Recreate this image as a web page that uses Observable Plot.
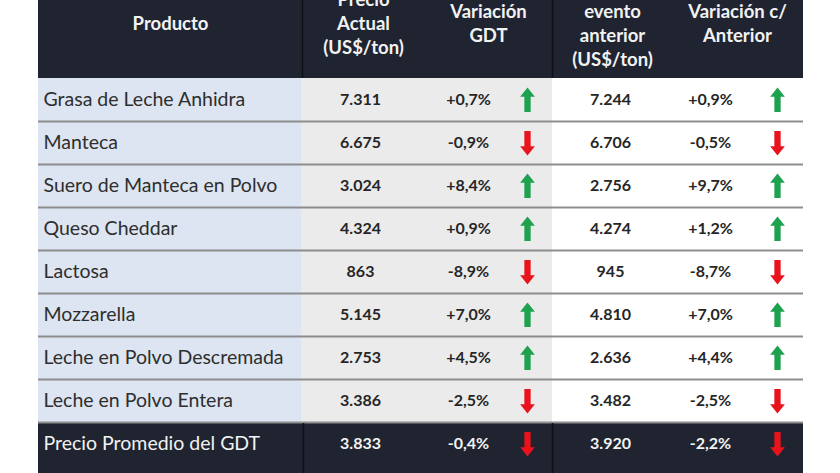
<!DOCTYPE html>
<html>
<head>
<meta charset="utf-8">
<script src="https://cdn.jsdelivr.net/npm/d3@7"></script>
<script src="https://cdn.jsdelivr.net/npm/@observablehq/plot@0.6"></script>
<style>
  html, body { margin: 0; padding: 0; background: #ffffff; }
  #chart { width: 840px; height: 473px; overflow: hidden; }
</style>
</head>
<body>
<div id="chart"></div>
<script>
// ---- data ----
const products = [
  "Grasa de Leche Anhidra",
  "Manteca",
  "Suero de Manteca en Polvo",
  "Queso Cheddar",
  "Lactosa",
  "Mozzarella",
  "Leche en Polvo Descremada",
  "Leche en Polvo Entera",
  "Precio Promedio del GDT"
];
const precioActual   = [7311, 6675, 3024, 4324, 863, 5145, 2753, 3386, 3833];
const variacionGDT   = [0.7, -0.9, 8.4, 0.9, -8.9, 7.0, 4.5, -2.5, -0.4];
const eventoAnterior = [7244, 6706, 2756, 4274, 945, 4810, 2636, 3482, 3920];
const variacionAnt   = [0.9, -0.5, 9.7, 1.2, -8.7, 7.0, 4.4, -2.5, -2.2];
const headers = [
  "Producto",
  "Precio\nActual\n(US$/ton)",
  "Variación\nGDT",
  "evento\nanterior\n(US$/ton)",
  "Variación c/\nAnterior"
];

// ---- layout ----
const W = 840, H = 473;
const HEAD_H = 78, ROW_H = 43;
const colEdges = [38, 301, 552, 803];
const headerX = [170, 363, 488, 612, 737];
const headerY = [22, 22, 22, 34, 22];
const X = {name: 43, price: 360, pct: 468, arrow1: 527, prev: 610, pct2: 710, arrow2: 777};
const DARK = "#1f2430";

const loc = d3.formatLocale({decimal: ",", thousands: ".", grouping: [3], currency: ["", ""]});
const fmtNum = loc.format(",d");
const fmtPct = v => (v > 0 ? "+" : v < 0 ? "-" : "") + Math.abs(v).toFixed(1).replace(".", ",") + "%";

const rows = products.map((p, i) => ({
  name: p,
  i,
  top: HEAD_H + i * ROW_H,
  mid: HEAD_H + i * ROW_H + ROW_H / 2,
  bottom: HEAD_H + (i + 1) * ROW_H,
  dark: i === products.length - 1,
  price: fmtNum(precioActual[i]),
  v1: variacionGDT[i],
  prev: fmtNum(eventoAnterior[i]),
  v2: variacionAnt[i]
}));
const light = rows.filter(r => !r.dark);
const dark = rows.filter(r => r.dark);

// background cells
const cells = [];
light.forEach(r => {
  cells.push({x1: colEdges[0], x2: colEdges[1], y1: r.top, y2: r.bottom, fill: "#dce5f1"});
  cells.push({x1: colEdges[1], x2: colEdges[2], y1: r.top, y2: r.bottom, fill: "#ebebeb"});
  cells.push({x1: colEdges[2], x2: colEdges[3], y1: r.top, y2: r.bottom, fill: "#ffffff"});
});
cells.push({x1: colEdges[0], x2: colEdges[3], y1: 0, y2: HEAD_H, fill: DARK});
dark.forEach(r => cells.push({x1: colEdges[0], x2: colEdges[3], y1: r.top, y2: H, fill: DARK}));

// arrow symbols
function arrowSymbol(up) {
  return {
    draw(ctx, size) {
      const s = Math.sqrt(size / Math.PI) / 10;
      const d = up ? 1 : -1;
      ctx.moveTo(0, -12 * s * d);
      ctx.lineTo(7 * s, -3 * s * d);
      ctx.lineTo(3 * s, -3 * s * d);
      ctx.lineTo(3 * s, 11.5 * s * d);
      ctx.lineTo(-3 * s, 11.5 * s * d);
      ctx.lineTo(-3 * s, -3 * s * d);
      ctx.lineTo(-7 * s, -3 * s * d);
      ctx.closePath();
    }
  };
}
const arrows = [];
rows.forEach(r => {
  arrows.push({x: X.arrow1, y: r.mid, up: r.v1 > 0});
  arrows.push({x: X.arrow2, y: r.mid, up: r.v2 > 0});
});

const font = "Lato, 'Open Sans', sans-serif";
const headerData = headers.map((t, k) => ({t, x: headerX[k], y: headerY[k]}));
const VAL_FS = 16;

const plot = Plot.plot({
  width: W,
  height: H,
  margin: 0,
  style: {fontFamily: font, background: "#ffffff"},
  x: {type: "linear", domain: [0, W], range: [0, W], axis: null},
  y: {type: "linear", domain: [0, H], range: [0, H], axis: null},
  marks: [
    Plot.rect(cells, {x1: "x1", x2: "x2", y1: "y1", y2: "y2", fill: d => d.fill}),
    Plot.ruleY(light.slice(1).map(r => r.top).concat([dark[0].top]), {x1: colEdges[0], x2: colEdges[3], stroke: "#8d8d8d", strokeWidth: 2}),
    Plot.ruleX([colEdges[1] + 1, colEdges[2]], {y1: 0, y2: HEAD_H, stroke: "#0e1015", strokeWidth: 1.5}),
    Plot.ruleX([colEdges[1] + 2, colEdges[2]], {y1: dark[0].top + 1, y2: H, stroke: "#0e1015", strokeWidth: 1.5}),
    // header text
    Plot.text(headerData, {x: "x", y: "y", text: "t", fill: "#f2f2f2", fontWeight: "bold", fontSize: 18.5, lineHeight: 24 / 18.5, lineAnchor: "middle"}),
    // product names
    Plot.text(light, {x: X.name, y: "mid", text: "name", textAnchor: "start", fill: "#2e2e2e", fontSize: 19.5}),
    Plot.text(dark, {x: X.name, y: "mid", text: "name", textAnchor: "start", fill: "#f2f2f2", fontSize: 19.5}),
    // values
    ...[["price", X.price], ["prev", X.prev]].flatMap(([k, x]) => [
      Plot.text(light, {x, y: "mid", text: k, fill: "#262626", fontWeight: "bold", fontSize: VAL_FS}),
      Plot.text(dark, {x, y: "mid", text: k, fill: "#f2f2f2", fontWeight: "bold", fontSize: VAL_FS})
    ]),
    ...[["v1", X.pct], ["v2", X.pct2]].flatMap(([k, x]) => [
      Plot.text(light, {x, y: "mid", text: d => fmtPct(d[k]), fill: "#262626", fontWeight: "bold", fontSize: VAL_FS}),
      Plot.text(dark, {x, y: "mid", text: d => fmtPct(d[k]), fill: "#f2f2f2", fontWeight: "bold", fontSize: VAL_FS})
    ]),
    // arrows
    Plot.dot(arrows.filter(a => a.up), {x: "x", y: "y", r: 10.5, symbol: arrowSymbol(true), fill: "#1fa24f", stroke: null}),
    Plot.dot(arrows.filter(a => !a.up), {x: "x", y: "y", r: 10.5, symbol: arrowSymbol(false), fill: "#e8131b", stroke: null})
  ]
});
document.getElementById("chart").appendChild(plot);
</script>
</body>
</html>
